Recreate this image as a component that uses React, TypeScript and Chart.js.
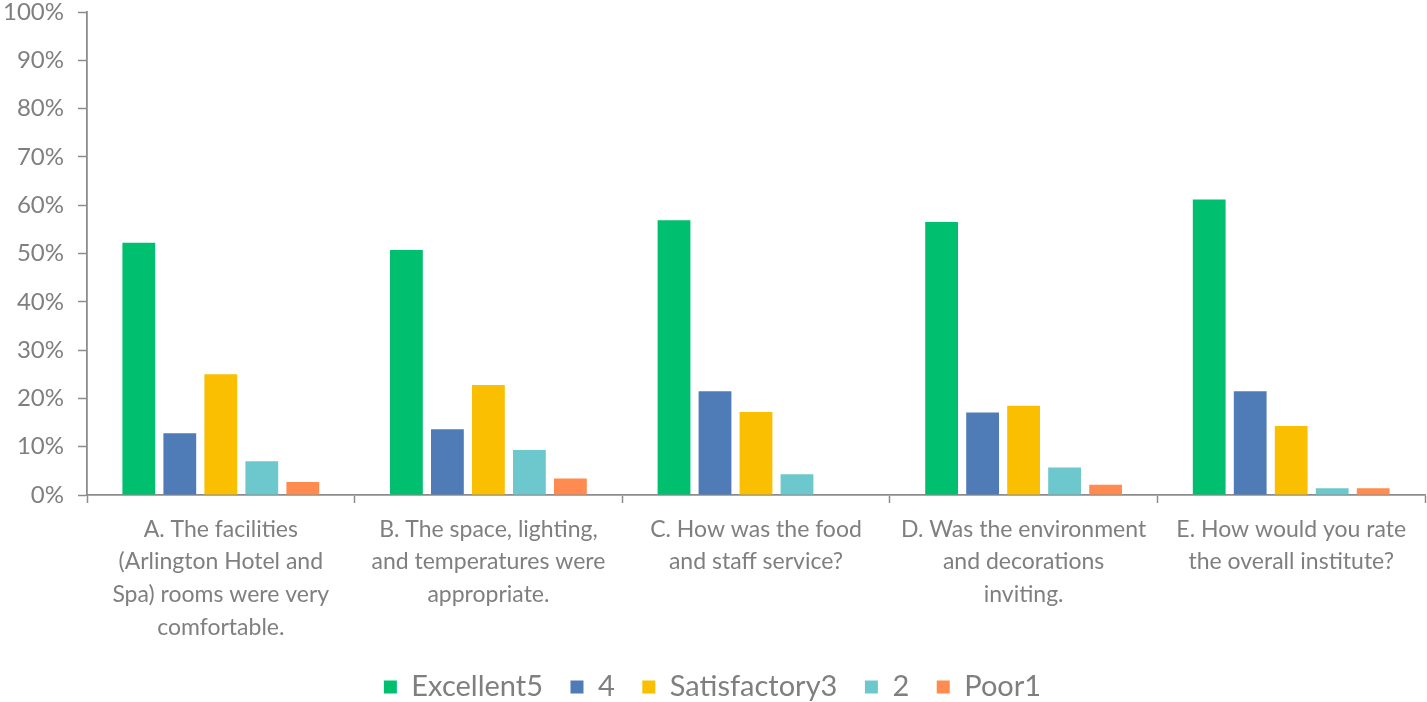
import React, { useEffect, useRef } from "react";
import { Chart, registerables } from "chart.js";

Chart.register(...registerables);

const categories: string[][] = [
  ["A. The facilities", "(Arlington Hotel and", "Spa) rooms were very", "comfortable."],
  ["B. The space, lighting,", "and temperatures were", "appropriate."],
  ["C. How was the food", "and staff service?"],
  ["D. Was the environment", "and decorations", "inviting."],
  ["E. How would you rate", "the overall institute?"],
];

const seriesNames = ["Excellent5", "4", "Satisfactory3", "2", "Poor1"];
const excellent5 = [52.2, 50.7, 56.9, 56.5, 61.2];
const four = [12.8, 13.6, 21.5, 17.1, 21.5];
const satisfactory3 = [25.0, 22.8, 17.2, 18.5, 14.3];
const two = [7.0, 9.3, 4.3, 5.7, 1.4];
const poor1 = [2.7, 3.4, 0, 2.1, 1.4];
const seriesColors = ["#00BF6F", "#4F7CB6", "#F9BF00", "#6CC8CD", "#FF8B50"];
const yTicks = [0, 10, 20, 30, 40, 50, 60, 70, 80, 90, 100];

const TEXT = "#7f7f7f";
const AXIS = "#8c8c8c";
const FONT = "Lato";

export default function App() {
  const ref = useRef<HTMLCanvasElement | null>(null);

  useEffect(() => {
    document.body.style.margin = "0";
    const values = [excellent5, four, satisfactory3, two, poor1];
    const chart = new Chart(ref.current as HTMLCanvasElement, {
      type: "bar",
      data: {
        labels: categories,
        datasets: seriesNames.map((name, i) => ({
          label: name,
          data: values[i],
          backgroundColor: seriesColors[i],
          borderWidth: 0,
          categoryPercentage: 0.766,
          barPercentage: 0.8,
        })),
      },
      options: {
        animation: false,
        responsive: false,
        maintainAspectRatio: false,
        layout: { padding: { top: 0, right: 2, bottom: -9.5, left: 0 } },
        plugins: {
          tooltip: { enabled: false },
          legend: {
            position: "bottom",
            labels: {
              color: TEXT,
              font: { family: FONT, size: 29 },
              boxWidth: 13,
              boxHeight: 13,
              padding: 27.5,
            },
          },
        },
        scales: {
          x: {
            grid: {
              display: true,
              drawOnChartArea: false,
              drawTicks: true,
              tickLength: 8,
              tickColor: AXIS,
              tickWidth: 1.5,
              offset: true,
            },
            border: { display: true, color: AXIS, width: 1.8 },
            ticks: {
              color: TEXT,
              font: { family: FONT, size: 23, lineHeight: 1.42 },
              padding: 10,
              maxRotation: 0,
              autoSkip: false,
            },
            afterFit: (s: any) => {
              s.height = 150;
            },
          },
          y: {
            min: 0,
            max: 100,
            afterBuildTicks: (s: any) => {
              s.ticks = yTicks.map((v) => ({ value: v }));
            },
            grid: {
              display: true,
              drawOnChartArea: false,
              drawTicks: true,
              tickLength: 9,
              tickColor: AXIS,
              tickWidth: 1.5,
            },
            border: { display: true, color: AXIS, width: 1.8 },
            ticks: {
              color: TEXT,
              font: { family: FONT, size: 24 },
              padding: 14,
              callback: (v: any) => v + "%",
            },
            afterFit: (s: any) => {
              s.width = 87;
              s.paddingTop = 12;
              s.paddingBottom = 0;
            },
          },
        },
      },
    });
    return () => chart.destroy();
  }, []);

  return (
    <div style={{ width: 1427, height: 702, position: "relative" }}>
      <canvas ref={ref} width={1427} height={702} style={{ display: "block" }} />
    </div>
  );
}
